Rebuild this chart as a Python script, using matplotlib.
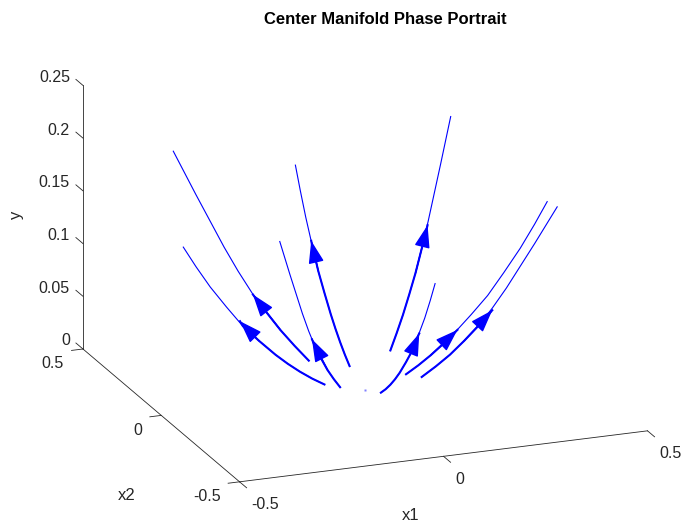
import numpy as np
import matplotlib
matplotlib.use("Agg")
import matplotlib.pyplot as plt
from mpl_toolkits.mplot3d import proj3d

plt.rcParams["font.family"] = ["Liberation Sans", "DejaVu Sans"]

# starting points of the trajectories (x1, x2)
start_x1 = [-0.1, -0.1, -0.1, 0.0, 0.0, 0.1, 0.1, 0.1]
start_x2 = [0.0, 0.1, -0.1, 0.1, -0.1, 0.1, 0.0, -0.1]

# trajectories starting on an axis: distance from origin and y
axis_rho = [0.100, 0.130, 0.160, 0.190, 0.220, 0.260, 0.300, 0.340, 0.380, 0.415, 0.446]
axis_y = [0.010, 0.017, 0.025, 0.034, 0.044, 0.059, 0.075, 0.095, 0.116, 0.137, 0.157]

# trajectories starting on a diagonal: |x1| = |x2| = a, and y
diag_a = [0.100, 0.125, 0.150, 0.175, 0.200, 0.225, 0.250, 0.275, 0.300, 0.320, 0.340]
diag_y = [0.020, 0.032, 0.045, 0.060, 0.076, 0.095, 0.116, 0.139, 0.162, 0.181, 0.200]

# arrow tip of each trajectory (multiple of the start point) and its y
tip_scale = [3.07, 1.99, 2.12, 3.45, 3.45, 2.48, 2.26, 2.25]
tip_y = [0.080, 0.075, 0.085, 0.098, 0.097, 0.113, 0.046, 0.093]

# equilibrium
eq_point = (0.0, 0.0, 0.0)

x1_ticks = [-0.5, 0, 0.5]
x2_ticks = [-0.5, 0, 0.5]
y_ticks = [0, 0.05, 0.1, 0.15, 0.2, 0.25]

W, H = 683, 523
blue = (0, 0, 1)
dark = (0.15, 0.15, 0.15)
tick_fs = 11.5

fig = plt.figure(figsize=(W / 100, H / 100), dpi=100)
ax = fig.add_axes([0.05, 0.05, 0.9, 0.9], projection="3d", computed_zorder=False)
ax.set_proj_type("ortho")
ax.view_init(elev=19, azim=-111)
ax.set_xlim(-0.5, 0.5)
ax.set_ylim(-0.5, 0.5)
ax.set_zlim(0, 0.25)
ax.set_box_aspect((1, 1, 0.638))
ax.set_axis_off()


def to2d(x, y, z):
    xs, ys, _ = proj3d.proj_transform(x, y, z, ax.get_proj())
    return float(xs), float(ys)


# box edges used as axes
ax.plot([-0.5, 0.5], [-0.5, -0.5], [0, 0], color=dark, lw=0.6)
ax.plot([-0.5, -0.5], [-0.5, 0.5], [0, 0], color=dark, lw=0.6)
ax.plot([-0.5, -0.5], [0.5, 0.5], [0, 0.25], color=dark, lw=0.6)

for t in x1_ticks:
    ax.plot([t, t], [-0.5, -0.545], [0, 0], color=dark, lw=0.6)
    ax.annotate(f"{t:g}", xy=to2d(t, -0.5, 0), xytext=(12, -23), textcoords="offset pixels",
                ha="left", va="center", fontsize=tick_fs, color=dark)
for t in x2_ticks:
    ax.plot([-0.5, -0.528], [t, t], [0, 0], color=dark, lw=0.6)
    ax.annotate(f"{t:g}", xy=to2d(-0.5, t, 0), xytext=(-19, -15), textcoords="offset pixels",
                ha="right", va="center", fontsize=tick_fs, color=dark)
for t in y_ticks:
    ax.plot([-0.5, -0.5], [0.5, 0.545], [t, t], color=dark, lw=0.6)
    ax.annotate(f"{t:g}", xy=to2d(-0.5, 0.5, t), xytext=(-13, 8), textcoords="offset pixels",
                ha="right", va="center", fontsize=tick_fs, color=dark)

# trajectories, thicker up to the arrow head
for s1, s2, ts, ty in zip(start_x1, start_x2, tip_scale, tip_y):
    if s1 != 0 and s2 != 0:
        k = np.array(diag_a) / 0.1
        yy = np.array(diag_y)
    else:
        k = np.array(axis_rho) / 0.1
        yy = np.array(axis_y)
    ax.plot(s1 * k, s2 * k, yy, color=blue, lw=0.8, zorder=3)

    before = k < ts - 0.05
    kk = np.append(k[before], ts)
    zz = np.append(yy[before], ty)
    ax.plot(s1 * kk, s2 * kk, zz, color=blue, lw=1.5, zorder=4)
    j = max(np.searchsorted(k, ts - 0.45) - 1, 0)
    ax.annotate("", xy=to2d(s1 * ts, s2 * ts, ty), xytext=to2d(s1 * k[j], s2 * k[j], yy[j]),
                arrowprops=dict(arrowstyle="-|>,head_length=0.7,head_width=0.24",
                                mutation_scale=20, color=blue, lw=1.0,
                                shrinkA=0, shrinkB=0), zorder=5)

ax.plot([eq_point[0]], [eq_point[1]], [eq_point[2]], marker="s", ms=1.5,
        color=(0.5, 0.5, 1), mec="none", zorder=3)

# fit the axes box so that the box corners land where they should
fig.canvas.draw()
corners = [(-0.5, -0.5, 0), (0.5, -0.5, 0), (-0.5, 0.5, 0), (-0.5, 0.5, 0.25)]
target = np.array([(240, 482), (647, 432), (83, 348), (83, 85)], dtype=float)
target[:, 1] = H - target[:, 1]
d = ax.transData.transform(np.array([to2d(*c) for c in corners]))
dm, tm = d.mean(axis=0), target.mean(axis=0)
k = ((d - dm) * (target - tm)).sum() / ((d - dm) ** 2).sum()
c = tm - k * dm
pos = ax.get_position()
x0, y0 = k * pos.x0 * W + c[0], k * pos.y0 * H + c[1]
ax.set_position([x0 / W, y0 / H, k * pos.width, k * pos.height])

fig.text(385 / W, 1 - 20 / H, "Center Manifold Phase Portrait", ha="center", va="center",
         fontsize=12, fontweight="bold")
fig.text(411 / W, 1 - 515 / H, "x1", ha="center", va="center", fontsize=12, color=dark)
fig.text(127 / W, 1 - 496 / H, "x2", ha="center", va="center", fontsize=12, color=dark)
fig.text(17 / W, 1 - 215 / H, "y", ha="center", va="center", fontsize=12, color=dark, rotation=90)

fig.savefig("out.png", dpi=100)
